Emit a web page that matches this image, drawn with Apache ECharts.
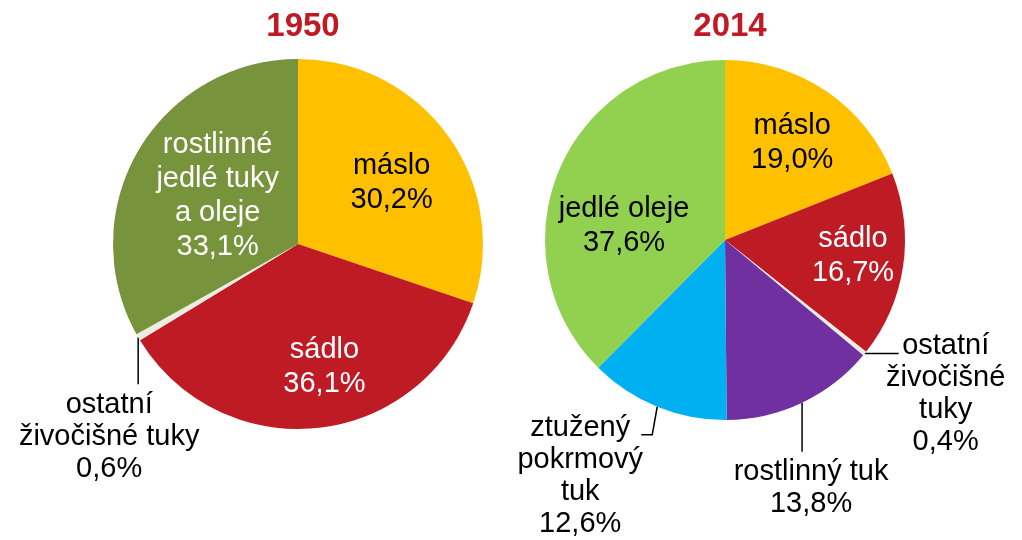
<!DOCTYPE html>
<html>
<head>
<meta charset="utf-8">
<script src="https://cdn.jsdelivr.net/npm/echarts@6/dist/echarts.min.js"></script>
<style>
  html, body { margin: 0; padding: 0; background: #fff; }
  #chart { width: 1022px; height: 540px; }
</style>
</head>
<body>
<div id="chart"></div>
<script>
// data
var years = ['1950', '2014'];

var names1950 = ['máslo', 'sádlo', 'ostatní živočišné tuky', 'rostlinné jedlé tuky a oleje'];
var labels1950 = ['máslo', 'sádlo', 'ostatní\nživočišné tuky', 'rostlinné\njedlé tuky\na oleje'];
var values1950 = [30.2, 36.1, 0.6, 33.1];

var names2014 = ['máslo', 'sádlo', 'ostatní živočišné tuky', 'rostlinný tuk', 'ztužený pokrmový tuk', 'jedlé oleje'];
var labels2014 = ['máslo', 'sádlo', 'ostatní\nživočišné\ntuky', 'rostlinný tuk', 'ztužený\npokrmový\ntuk', 'jedlé oleje'];
var values2014 = [19.0, 16.7, 0.4, 13.8, 12.6, 37.6];

// styles
var FONT = '"Liberation Sans", Arial, sans-serif';
var colors = {
    'máslo': '#FFC000',
    'sádlo': '#BE1B24',
    'ostatní živočišné tuky': '#EEECE1',
    'rostlinné jedlé tuky a oleje': '#77933C',
    'rostlinný tuk': '#7030A0',
    'ztužený pokrmový tuk': '#00B0F0',
    'jedlé oleje': '#92D050'
};
var textColors = {
    'máslo': '#000',
    'sádlo': '#fff',
    'rostlinné jedlé tuky a oleje': '#fff',
    'jedlé oleje': '#000'
};
// label placement per series: inside -> shift from default, outside -> leader + anchor relative to slice edge
var layouts = [
    {
        'máslo': {dx: 16, dy: -5},
        'sádlo': {dx: 16, dy: 28},
        'rostlinné jedlé tuky a oleje': {dx: 2, dy: 0},
        'ostatní živočišné tuky': {line: [[0, 0], [0, 47]], at: [-29, 52]}
    },
    {
        'máslo': {dx: 15, dy: -20},
        'sádlo': {dx: 36, dy: 2},
        'jedlé oleje': {dx: -15, dy: 21},
        'ostatní živočišné tuky': {line: [[0, 0], [34, 0]], at: [81, -24]},
        'rostlinný tuk': {line: [[0, 0], [0, 49]], at: [9, 53]},
        'ztužený pokrmový tuk': {line: [[0, 0], [-5, 28], [-16, 28]], at: [-77, 5]}
    }
];
var centers = [[298, 244], [725, 240]];
var radii = [185, 180];

function fmt(v) {
    return v.toFixed(1).replace('.', ',') + '%';
}

function buildData(names, labels, values, si) {
    return names.map(function (n, i) {
        var lay = layouts[si][n];
        var outside = !!lay.line;
        return {
            name: n,
            value: values[i],
            itemStyle: {color: colors[n]},
            label: {
                position: outside ? 'outside' : 'inside',
                color: outside ? '#000' : textColors[n],
                formatter: labels[i] + '\n' + fmt(values[i]),
                lineHeight: outside ? 32 : 34
            },
            labelLine: {show: outside, length: 10, length2: 10}
        };
    });
}

var seriesNames = [names1950, names2014];

function layoutFn(si) {
    return function (params) {
        var n = seriesNames[si][params.dataIndex];
        var lay = layouts[si][n];
        if (!lay.line) {
            return {dx: lay.dx, dy: lay.dy};
        }
        var e = params.labelLinePoints && params.labelLinePoints[0];
        var ex = e[0], ey = e[1];
        return {
            x: ex + lay.at[0],
            y: ey + lay.at[1],
            align: 'center',
            verticalAlign: 'top',
            labelLinePoints: lay.line.map(function (p) { return [ex + p[0], ey + p[1]]; })
        };
    };
}

var chart = echarts.init(document.getElementById('chart'));

var series = [
    buildData(names1950, labels1950, values1950, 0),
    buildData(names2014, labels2014, values2014, 1)
].map(function (data, si) {
    return {
        type: 'pie',
        center: centers[si],
        radius: radii[si],
        startAngle: 90,
        clockwise: true,
        avoidLabelOverlap: false,
        animation: false,
        silent: true,
        itemStyle: {borderWidth: 0},
        label: {
            show: true,
            fontFamily: FONT,
            fontSize: 29,
            align: 'center'
        },
        labelLine: {lineStyle: {color: '#000', width: 1.5}},
        labelLayout: layoutFn(si),
        data: data
    };
});

chart.setOption({
    backgroundColor: '#fff',
    title: years.map(function (y, i) {
        return {
            text: y,
            left: centers[i][0],
            top: 5,
            textAlign: 'center',
            textStyle: {color: '#BE1B24', fontFamily: FONT, fontWeight: 'bold', fontSize: 33}
        };
    }),
    series: series
});
</script>
</body>
</html>
